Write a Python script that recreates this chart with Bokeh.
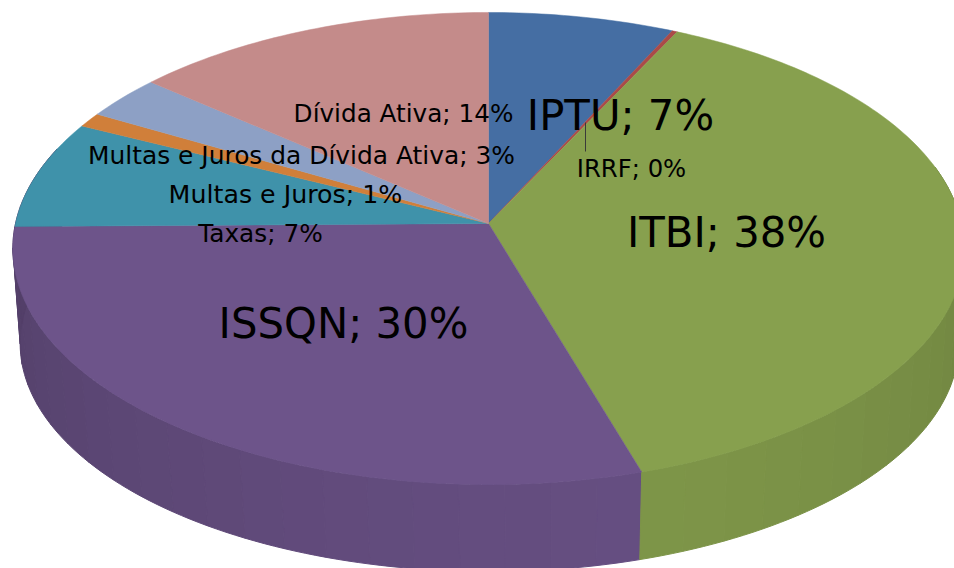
import math
from bokeh.plotting import figure
from bokeh.models import Range1d
from bokeh.core.properties import value
from bokeh.embed import file_html
from bokeh.resources import INLINE

categories = ["IPTU", "IRRF", "ITBI", "ISSQN", "Taxas", "Multas e Juros",
              "Multas e Juros da Dívida Ativa", "Dívida Ativa"]
values = [7.0, 0.2, 38.1, 29.5, 7.4, 1.0, 3.0, 13.8]
percent_labels = ["7%", "0%", "38%", "30%", "7%", "1%", "3%", "14%"]
top_colors = ["#456ea3", "#aa4a48", "#87a04e", "#6d548a", "#3f92aa", "#d07f3a", "#8da0c5", "#c48b8a"]

# label placement (centre, in page pixels) and size
label_x = [620, 631, 726, 343, 260, 285, 301, 403]
label_y = [115, 168, 232, 323, 233, 194, 155, 113]
label_size = ["41.8px", "24.3px", "41.8px", "41.8px", "24.8px", "25.3px", "24.9px", "24.7px"]

W, H = 954, 568
p = figure(width=W, height=H, x_range=Range1d(0, 954), y_range=Range1d(568, 0),
           output_backend="svg", toolbar_location=None, min_border=0,
           outline_line_color=None, background_fill_color="white", border_fill_color="white")
p.axis.visible = False
p.grid.visible = False


def project(theta, rx, ry, k, cy, cx=488.0):
    """Clockwise angle from 12 o'clock on a tilted disc -> page pixels."""
    u, v = math.sin(theta), -math.cos(theta)
    d = 1 - k * v
    return cx + rx * u / d, cy + ry * v / d


TOP = dict(rx=473.0, ry=233.4, k=0.106, cy=223.0)
BOT = dict(rx=467.0, ry=226.0, k=0.100, cy=320.0, cx=489.0)

total = sum(values)
edges = [0.0]
for val in values:
    edges.append(edges[-1] + val / total * 2 * math.pi)


def shade(color, f):
    r, g, b = int(color[1:3], 16), int(color[3:5], 16), int(color[5:7], 16)
    return "#%02x%02x%02x" % (int(r * f), int(g * f), int(b * f))


# side wall, only the two front slices show one; stepped facets give its banding
step = math.radians(5)
for i in (3, 2):
    color = top_colors[i]
    a0, a1 = edges[i], edges[i + 1]
    lo = max(a0, math.pi / 2 - 0.25)
    hi = a1 + 0.35 if i == 3 else a1
    n = max(1, int((hi - lo) / step))
    for j in range(n):
        t0 = lo + (hi - lo) * j / n
        t1 = lo + (hi - lo) * (j + 1) / n
        mid = (t0 + t1) / 2
        off = abs(mid - math.radians(165)) / math.radians(105)
        f = 0.935 - 0.17 * min(off, 1.1) ** 1.3
        xt, yt, xb, yb = [], [], [], []
        for q in range(5):
            t = t0 + (t1 - t0) * q / 4
            a, b = project(t, **TOP)
            xt.append(a); yt.append(b)
            a, b = project(t, **BOT)
            xb.append(a); yb.append(b)
        c = shade(color, f)
        p.patch(xt + xb[::-1], yt + yb[::-1], fill_color=c, fill_alpha=1.0,
                line_color=c, line_alpha=1.0, line_width=1)

# top face
apex_x, apex_y = 488.0, 223.0
for i, color in enumerate(top_colors):
    a0, a1 = edges[i], edges[i + 1]
    n = max(2, int((a1 - a0) / math.radians(1)))
    xs, ys = [apex_x], [apex_y]
    for j in range(n + 1):
        a, b = project(a0 + (a1 - a0) * j / n, **TOP)
        xs.append(a); ys.append(b)
    p.patch(xs, ys, fill_color=color, fill_alpha=1.0, line_color=color, line_alpha=1.0, line_width=0.5)

# leader line for IRRF
p.segment(x0=[585], y0=[122], x1=[585], y1=[151], line_color="#3a3a3a", line_width=1)

# labels
for name, pct, x, y, size in zip(categories, percent_labels, label_x, label_y, label_size):
    p.text(x=[x], y=[y], text=[f"{name}; {pct}"], text_font=value("DejaVu Sans"),
           text_font_size=value(size), text_align="center", text_baseline="middle",
           text_color="#000000")

open("out.html", "w").write(file_html(p, INLINE))
